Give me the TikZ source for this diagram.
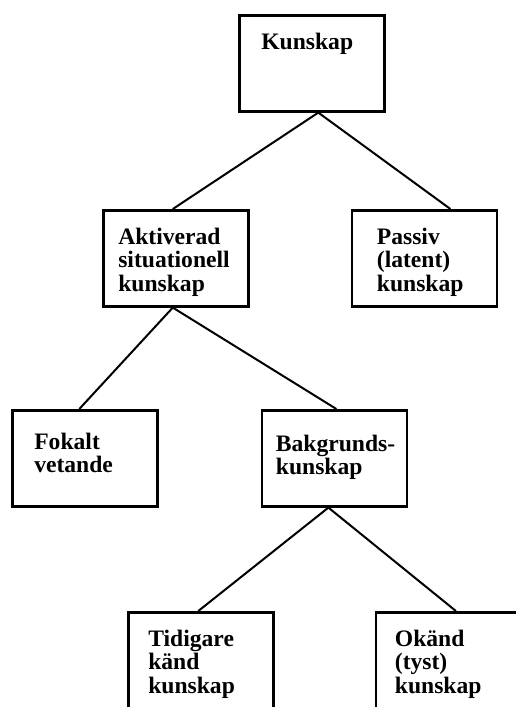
\documentclass[tikz,border=0pt]{standalone}
\usepackage{fontspec}
\setmainfont{Liberation Serif}
\usetikzlibrary{positioning}

\begin{document}
\begin{tikzpicture}[x=0.5pt, y=-0.5pt,
		box/.style={draw, rectangle, line width=1.3pt, align=left,
			inner xsep=#1, inner ysep=0pt, text width=72.5pt-2*#1,
			text height=17pt, text depth=31pt,
			font=\bfseries\fontsize{11.8pt}{11.8pt}\selectfont},
		box/.default=9.5pt,
		link/.style={line width=1pt}]
	\useasboundingbox (0,0) rectangle (515,707);

	\node[box=11pt, anchor=north west] (k) at (238,14) {Kunskap};

	\node[box=7.5pt, anchor=north west] (a) at (102,209) {Aktiverad\\situationell\\kunskap};
	\node[box=12.5pt, right=50.5pt of a] (p) {Passiv\\(latent)\\kunskap};

	\node[box=11pt, anchor=north west, text height=19.5pt, text depth=28.5pt] (f) at (11,409) {Fokalt\\vetande};
	\node[box=7pt, right=51pt of f, text height=20.5pt, text depth=27.5pt] (b) {\mbox{Bakgrunds-}\\kunskap};

	\node[box=10pt, anchor=north west, text depth=36pt] (t) at (127,611) {Tidigare\\känd\\kunskap};
	\node[box=9.5pt, right=50pt of t, text depth=36pt] (o) {Okänd\\(tyst)\\kunskap};

	\foreach \from/\fs/\to/\ts in {k/3.25/a/-1.5, k/3.25/p/13, a/-1.5/f/-2.75,
			a/-1.5/b/1, b/-3/t/-1.25, b/-3/o/3.75}
		\draw[link] ([xshift=\fs pt]\from.south) -- ([xshift=\ts pt]\to.north);
\end{tikzpicture}
\end{document}
